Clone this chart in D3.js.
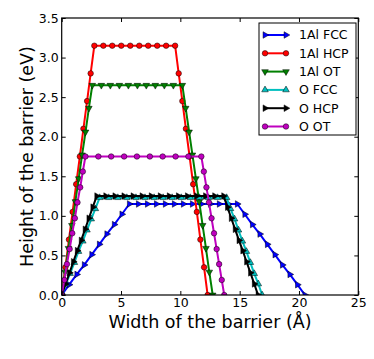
<!DOCTYPE html>
<html>
<head>
<meta charset="utf-8">
<script src="https://cdn.jsdelivr.net/npm/d3@7"></script>
<style>
body { margin: 0; background: #fff; }
text { font-family: "DejaVu Sans", sans-serif; }
</style>
</head>
<body>
<svg width="374" height="359"></svg>
<script>
const xTicks = [0, 5, 10, 15, 20, 25];
const yTicks = [0, 0.5, 1.0, 1.5, 2.0, 2.5, 3.0, 3.5];

const labels = ["1Al FCC", "1Al HCP", "1Al OT", "O FCC", "O HCP", "O OT"];

const fccAlX = [0,0.63,1.27,1.90,2.53,3.17,3.80,4.43,5.07,5.70,6.46,7.22,7.98,8.73,9.49,10.25,11.01,11.77,12.53,13.28,14.04,14.80,15.43,16.07,16.70,17.33,17.97,18.60,19.23,19.87,20.50];
const fccAlY = [0,0.13,0.26,0.38,0.51,0.64,0.77,0.89,1.02,1.15,1.15,1.15,1.15,1.15,1.15,1.15,1.15,1.15,1.15,1.15,1.15,1.15,1.02,0.89,0.77,0.64,0.51,0.38,0.26,0.13,0];

const hcpAlX = [0,0.31,0.61,0.92,1.22,1.53,1.83,2.14,2.44,2.75,3.51,4.26,5.02,5.78,6.54,7.29,8.05,8.80,9.56,9.86,10.17,10.47,10.78,11.08,11.39,11.69,12.00,12.30];
const hcpAlY = [0,0.35,0.70,1.05,1.40,1.75,2.10,2.45,2.80,3.15,3.15,3.15,3.15,3.15,3.15,3.15,3.15,3.15,3.15,2.80,2.45,2.10,1.75,1.40,1.05,0.70,0.35,0];

const otAlX = [0,0.29,0.57,0.86,1.15,1.43,1.72,2.01,2.29,2.58,3.34,4.10,4.86,5.62,6.38,7.13,7.89,8.65,9.41,10.17,10.45,10.74,11.02,11.31,11.59,11.88,12.16,12.44,12.73];
const otAlY = [0,0.29,0.59,0.88,1.18,1.47,1.77,2.06,2.36,2.65,2.65,2.65,2.65,2.65,2.65,2.65,2.65,2.65,2.65,2.65,2.36,2.06,1.77,1.47,1.18,0.88,0.59,0.29,0];

const fccOX = [0,0.36,0.71,1.07,1.42,1.78,2.13,2.49,2.84,3.20,3.96,4.73,5.49,6.26,7.02,7.79,8.55,9.31,10.08,10.84,11.61,12.37,13.14,13.90,14.23,14.57,14.90,15.23,15.57,15.90,16.23,16.57,16.90];
const fccOY = [0,0.14,0.27,0.41,0.55,0.68,0.82,0.96,1.09,1.23,1.23,1.23,1.23,1.23,1.23,1.23,1.23,1.23,1.23,1.23,1.23,1.23,1.23,1.23,1.09,0.96,0.82,0.68,0.55,0.41,0.27,0.14,0];

const hcpOX = [0,0.33,0.66,0.98,1.31,1.64,1.97,2.29,2.62,2.95,3.71,4.48,5.24,6.01,6.77,7.54,8.30,9.06,9.83,10.59,11.36,12.12,12.89,13.65,13.97,14.29,14.62,14.94,15.26,15.58,15.91,16.23,16.55];
const hcpOY = [0,0.14,0.28,0.42,0.56,0.69,0.83,0.97,1.11,1.25,1.25,1.25,1.25,1.25,1.25,1.25,1.25,1.25,1.25,1.25,1.25,1.25,1.25,1.25,1.11,0.97,0.83,0.69,0.56,0.42,0.28,0.14,0];

const otOX = [0,0.22,0.44,0.67,0.89,1.11,1.33,1.56,1.78,2.00,3.09,4.17,5.26,6.34,7.43,8.51,9.60,10.68,11.77,11.98,12.20,12.41,12.63,12.84,13.06,13.27,13.49,13.70];
const otOY = [0,0.19,0.39,0.58,0.78,0.97,1.17,1.36,1.56,1.75,1.75,1.75,1.75,1.75,1.75,1.75,1.75,1.75,1.75,1.56,1.36,1.17,0.97,0.78,0.58,0.39,0.19,0];

const seriesX = [fccAlX, hcpAlX, otAlX, fccOX, hcpOX, otOX];
const seriesY = [fccAlY, hcpAlY, otAlY, fccOY, hcpOY, otOY];
const colors  = ["#0000ff", "#ff0000", "#008000", "#00bfbf", "#000000", "#bf00bf"];
const markers = ["right", "circle", "down", "up", "right", "circle"];

const svg = d3.select("svg");
const margin = {top: 18, right: 15.7, bottom: 64, left: 61.7};
const width  = 374 - margin.left - margin.right;
const height = 359 - margin.top - margin.bottom;

const g = svg.append("g").attr("transform", "translate(" + margin.left + "," + margin.top + ")");

const x = d3.scaleLinear().domain([0, 25]).range([0, width]);
const y = d3.scaleLinear().domain([0, 3.5]).range([height, 0]);

g.append("clipPath").attr("id", "clip")
 .append("rect").attr("width", width).attr("height", height);

function markerPath(kind) {
  if (kind === "circle") return d3.symbol().type(d3.symbolCircle).size(24)();
  return d3.symbol().type(d3.symbolTriangle).size(19)();
}
function markerRot(kind) {
  if (kind === "right") return 90;
  if (kind === "down") return 180;
  return 0;
}

const plot = g.append("g").attr("clip-path", "url(#clip)");

const line = d3.line()
  .x(function(d) { return x(d[0]); })
  .y(function(d) { return y(d[1]); });

seriesX.forEach(function(xs, i) {
  const pts = xs.map(function(v, j) { return [v, seriesY[i][j]]; });
  const s = plot.append("g");
  s.append("path")
   .datum(pts)
   .attr("fill", "none")
   .attr("stroke", colors[i])
   .attr("stroke-width", 2)
   .attr("stroke-linejoin", "round")
   .attr("d", line);
  s.selectAll("path.m")
   .data(pts)
   .enter().append("path")
   .attr("class", "m")
   .attr("d", markerPath(markers[i]))
   .attr("transform", function(d) { return "translate(" + x(d[0]) + "," + y(d[1]) + ") rotate(" + markerRot(markers[i]) + ")"; })
   .attr("fill", colors[i])
   .attr("stroke", "#000")
   .attr("stroke-width", 0.5);
});

// axes, ticks inward on all four sides
const axB = g.append("g").attr("transform", "translate(0," + height + ")")
  .call(d3.axisBottom(x).tickValues(xTicks).tickFormat(d3.format("d")).tickSize(-4).tickPadding(3));
const axT = g.append("g")
  .call(d3.axisTop(x).tickValues(xTicks).tickFormat("").tickSize(-4));
const axL = g.append("g")
  .call(d3.axisLeft(y).tickValues(yTicks).tickFormat(d3.format(".1f")).tickSize(-4).tickPadding(3));
const axR = g.append("g").attr("transform", "translate(" + width + ",0)")
  .call(d3.axisRight(y).tickValues(yTicks).tickFormat("").tickSize(-4));

[axB, axT, axL, axR].forEach(function(a) {
  a.select(".domain").remove();
  a.selectAll("text").attr("font-family", "DejaVu Sans").attr("font-size", 12.5).attr("fill", "#000");
});

g.append("rect")
 .attr("width", width).attr("height", height)
 .attr("fill", "none").attr("stroke", "#000").attr("stroke-width", 1.2);

g.append("text")
 .attr("x", width / 2).attr("y", height + 33)
 .attr("text-anchor", "middle")
 .attr("font-size", 17.5)
 .text("Width of the barrier (Å)");

g.append("text")
 .attr("transform", "translate(" + (-28.5) + "," + (height / 2) + ") rotate(-90)")
 .attr("text-anchor", "middle")
 .attr("font-size", 17.5)
 .text("Height of the barrier (eV)");

// legend
const leg = svg.append("g").attr("transform", "translate(259,23)");
leg.append("rect").attr("width", 97).attr("height", 112)
 .attr("fill", "#fff").attr("stroke", "#000").attr("stroke-width", 1);

labels.forEach(function(lab, i) {
  const ry = 12 + i * 18.3;
  const row = leg.append("g").attr("transform", "translate(0," + ry + ")");
  row.append("line").attr("x1", 6).attr("x2", 27).attr("y1", 0).attr("y2", 0)
   .attr("stroke", colors[i]).attr("stroke-width", 2);
  [6, 27].forEach(function(px) {
    row.append("path").attr("d", markerPath(markers[i]))
     .attr("transform", "translate(" + px + ",0) rotate(" + markerRot(markers[i]) + ")")
     .attr("fill", colors[i]).attr("stroke", "#000").attr("stroke-width", 0.5);
  });
  row.append("text").attr("x", 40).attr("y", 0).attr("dy", "0.35em")
   .attr("font-size", 12.5).text(lab);
});
</script>
</body>
</html>
